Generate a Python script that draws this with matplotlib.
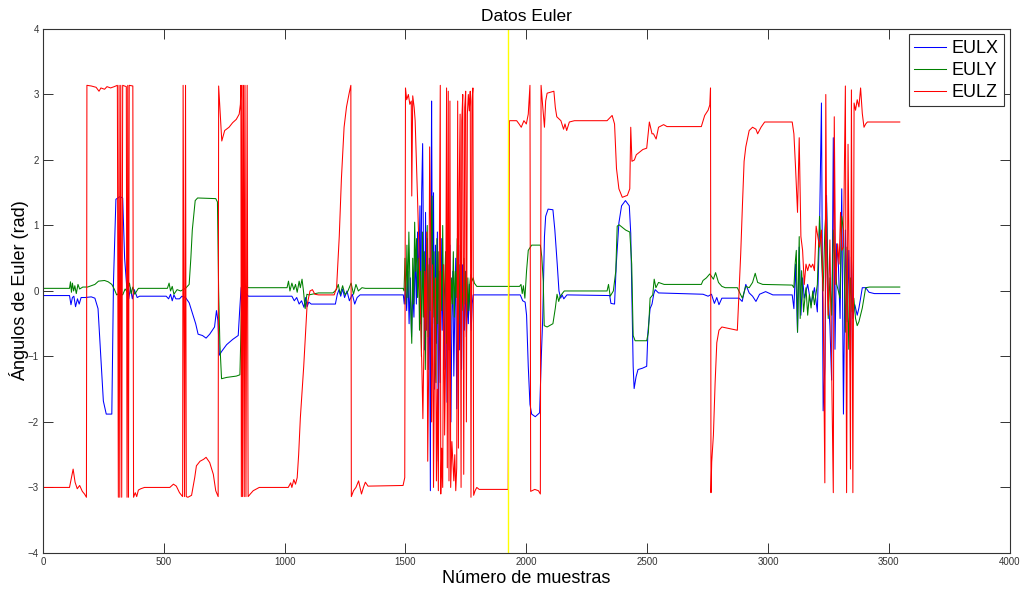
import matplotlib.pyplot as plt

# Euler angles (rad), as (sample, value) vertices
EULX = [(0, -0.07), (110, -0.07), (116, -0.21), (122, -0.1), (128, -0.08), (135, -0.24), (143, -0.12),
        (150, -0.2), (158, -0.1), (175, -0.1), (200, -0.09), (215, -0.11), (228, -0.27), (238, -0.9),
        (250, -1.68), (262, -1.88), (285, -1.88), (292, 0.15), (302, 1.4), (318, 1.44), (330, 1.42),
        (338, 0.5), (348, 0.0), (355, -0.12), (362, 0.05), (370, -0.12), (378, 0.02), (390, -0.1),
        (400, -0.08), (510, -0.08), (520, -0.12), (528, -0.05), (535, -0.15), (542, -0.06), (550, -0.12),
        (565, -0.12), (575, -0.08), (590, -0.1), (605, -0.18), (622, -0.38), (632, -0.5), (642, -0.66),
        (660, -0.68), (675, -0.72), (690, -0.66), (710, -0.55), (718, -0.3), (724, -0.45), (730, -0.98),
        (740, -0.92), (760, -0.82), (785, -0.74), (808, -0.68), (814, -0.3), (820, 0.05), (826, 0.1),
        (835, -0.02), (850, -0.08), (1030, -0.08), (1040, -0.15), (1050, -0.1), (1060, -0.2), (1070, -0.15),
        (1080, -0.25), (1087, -0.1), (1093, -0.24), (1100, -0.17), (1110, -0.2), (1210, -0.2), (1218, -0.05),
        (1225, 0.02), (1232, -0.08), (1240, 0.03), (1248, -0.1), (1258, 0.0), (1268, -0.15), (1280, -0.05),
        (1290, -0.2), (1300, -0.1), (1312, -0.06), (1491, -0.06),
        (1495, -0.2), (1500, 0.1), (1505, -0.3), (1510, 0.3), (1515, -0.5), (1520, 0.2), (1525, -0.7),
        (1530, 0.0), (1535, -0.4), (1540, 0.6), (1545, -0.2), (1550, 0.9), (1555, 0.1), (1560, 1.3),
        (1563, -0.5), (1567, 1.5), (1571, 2.25), (1575, 0.3), (1579, -0.9), (1583, 1.2), (1587, -0.6),
        (1591, 0.8), (1595, -1.2), (1599, 0.5), (1603, -3.05), (1606, 1.0), (1608, 2.9), (1612, -0.5),
        (1616, 1.5), (1620, -1.5), (1624, 0.7), (1628, -0.8), (1632, 0.9), (1636, -2.6), (1640, 0.3),
        (1644, -1.4), (1648, 0.8), (1652, -0.6), (1656, 0.4), (1660, -1.2), (1664, -0.2), (1668, 0.6),
        (1672, -1.7), (1676, 0.2), (1680, -0.9), (1684, 0.7), (1688, -2.0), (1692, -0.4), (1696, 0.3),
        (1700, -1.3), (1704, -0.3), (1708, 0.5), (1712, -1.8), (1716, -0.5), (1720, 0.7), (1724, -0.9),
        (1728, 0.1), (1732, -1.2), (1736, 0.4), (1740, -0.2), (1744, -0.6), (1748, 0.3), (1752, -0.7),
        (1756, -0.1), (1760, -0.5), (1764, 0.1), (1768, -0.3), (1772, -0.6), (1776, -0.2), (1780, -0.06),
        (1975, -0.06), (1985, -0.15), (1995, -0.17), (2001, -0.37), (2008, -1.15), (2015, -1.73),
        (2022, -1.88), (2037, -1.92), (2055, -1.86), (2062, -1.0), (2068, -0.4), (2075, 0.83), (2080, 1.14),
        (2090, 1.25), (2110, 1.24), (2118, 0.93), (2128, 0.4), (2135, 0.0), (2142, -0.11), (2148, -0.06),
        (2155, -0.12), (2168, -0.06), (2345, -0.07), (2350, -0.19), (2365, -0.2), (2372, 0.4), (2383, 1.04),
        (2394, 1.3), (2410, 1.38), (2426, 1.3), (2432, 0.88), (2437, -0.1), (2442, -1.15), (2446, -1.49),
        (2454, -1.31), (2462, -1.2), (2480, -1.18), (2498, -1.15), (2503, -0.63), (2512, -0.27),
        (2520, -0.2), (2527, -0.05), (2533, 0.02), (2547, -0.03), (2731, -0.05), (2752, -0.08),
        (2766, -0.05), (2778, -0.19), (2788, -0.1), (2797, -0.21), (2809, -0.11), (2880, -0.11),
        (2893, -0.16), (2908, 0.1), (2922, -0.03), (2936, -0.08), (2950, -0.16), (2965, -0.05),
        (2990, -0.01), (3020, -0.06), (3100, -0.06), (3107, -0.27),
        (3114, 0.41), (3122, -0.63), (3129, 0.67), (3136, -0.37), (3143, 0.2), (3150, -0.11), (3164, 0.1),
        (3178, -0.21), (3192, 0.05), (3204, -0.32), (3213, 0.93), (3221, 2.87), (3228, -1.83),
        (3235, -1.15), (3242, 1.46), (3249, -0.11), (3256, -0.53), (3263, -1.36), (3270, 2.34),
        (3277, -0.89), (3284, 0.72), (3291, 0.41), (3298, -0.42), (3305, 1.56), (3312, -1.88), (3320, 0.93),
        (3327, -0.47), (3334, 0.62), (3341, -1.2), (3345, 0.52), (3351, -0.42), (3359, -0.21),
        (3369, -0.37), (3376, -0.26), (3383, -0.11), (3390, 0.05), (3404, 0.05), (3418, -0.02),
        (3440, -0.04), (3545, -0.04)]

EULY = [(0, 0.04), (110, 0.04), (114, 0.14), (118, -0.02), (122, 0.12), (127, 0.0), (132, 0.08),
        (138, -0.04), (145, 0.1), (152, 0.03), (165, 0.06), (185, 0.06), (200, 0.08), (215, 0.1),
        (230, 0.15), (255, 0.16), (270, 0.14), (285, 0.1), (295, 0.03), (305, -0.06), (318, -0.03),
        (330, -0.06), (340, 0.03), (350, -0.02), (358, 0.12), (365, -0.04), (372, 0.06), (380, -0.05),
        (395, 0.04), (515, 0.04), (522, 0.12), (528, 0.0), (535, 0.07), (542, -0.05), (555, 0.02),
        (570, 0.0), (590, 0.04), (605, 0.1), (612, 0.5), (618, 0.93), (630, 1.38), (640, 1.42), (715, 1.41),
        (722, 1.36), (724, 0.78), (727, 0.0), (732, -0.8), (739, -1.34), (760, -1.32), (800, -1.3),
        (815, -1.28), (820, -0.5), (823, 0.1), (830, 0.15), (840, 0.06), (852, 0.05), (1010, 0.05),
        (1016, 0.15), (1022, 0.0), (1030, 0.12), (1038, 0.02), (1045, 0.1), (1052, -0.02), (1060, 0.15),
        (1065, 0.05), (1072, 0.18), (1078, 0.0), (1085, -0.27), (1092, -0.05), (1100, -0.06),
        (1140, -0.03), (1200, -0.03), (1214, 0.02), (1222, 0.1), (1230, -0.05), (1240, 0.08),
        (1250, -0.06), (1262, 0.0), (1275, 0.12), (1285, -0.05), (1295, 0.1), (1305, 0.0), (1320, 0.05),
        (1334, 0.04), (1490, 0.04),
        (1494, 0.0), (1498, 0.5), (1502, -0.2), (1506, 0.7), (1510, -0.1), (1514, 0.9), (1518, 0.2),
        (1522, -0.3), (1526, -0.8), (1530, 0.5), (1534, -0.2), (1538, 1.05), (1542, 0.3), (1546, 0.8),
        (1550, -0.1), (1554, 0.5), (1558, -0.6), (1562, 0.3), (1566, -1.0), (1570, 0.9), (1574, -0.4),
        (1578, 0.6), (1582, -1.2), (1586, 0.3), (1590, 1.0), (1594, -0.7), (1598, 0.4), (1602, -0.3),
        (1606, 0.8), (1610, 1.45), (1614, -0.4), (1618, 0.6), (1622, -1.1), (1626, -1.4), (1630, 0.8),
        (1634, -0.5), (1638, 0.6), (1642, -0.9), (1646, 0.3), (1650, -0.3), (1654, 1.0), (1658, -0.6),
        (1662, 0.1), (1666, 0.6), (1670, -0.8), (1674, 0.3), (1678, -0.4), (1682, 0.5), (1686, -0.6),
        (1690, 0.2), (1694, -0.2), (1698, 0.6), (1702, -0.4), (1706, 0.3), (1710, -0.1), (1714, 0.8),
        (1718, -0.3), (1722, 0.4), (1726, -0.5), (1730, 0.6), (1734, 0.0), (1738, -0.3), (1742, 0.5),
        (1746, -0.2), (1750, 0.3), (1754, -0.4), (1758, 0.2), (1762, -0.3), (1766, 0.1), (1770, 0.25),
        (1775, 0.15), (1780, 0.2), (1785, 0.12), (1795, 0.07), (1972, 0.07), (1978, 0.1), (1983, -0.04),
        (1988, 0.08), (1994, -0.11), (2001, 0.31), (2008, 0.62), (2022, 0.7), (2058, 0.7), (2064, 0.52),
        (2070, 0.15), (2074, -0.53), (2086, -0.55), (2110, -0.5), (2120, -0.26), (2127, -0.05),
        (2134, -0.16), (2140, -0.08), (2157, 0.0), (2334, 0.0), (2340, 0.1), (2347, -0.08), (2360, 0.0),
        (2370, 0.3), (2376, 0.99), (2384, 1.01), (2411, 0.93), (2428, 0.9), (2436, 0.41), (2442, -0.68),
        (2450, -0.76), (2498, -0.76), (2505, -0.63), (2512, -0.11), (2523, -0.06), (2529, 0.18),
        (2536, 0.05), (2547, 0.13), (2570, 0.1), (2724, 0.1), (2731, 0.16), (2745, 0.2), (2759, 0.26),
        (2774, 0.18), (2783, 0.28), (2795, 0.13), (2809, 0.07), (2823, 0.05), (2873, 0.05), (2887, -0.06),
        (2894, -0.11), (2908, 0.07), (2922, 0.05), (2936, 0.13), (2947, 0.27), (2957, 0.13), (2978, 0.1),
        (3100, 0.09),
        (3107, 0.05), (3112, 0.41), (3117, 0.62), (3122, -0.63), (3129, 0.83), (3133, -0.42), (3139, 0.31),
        (3147, -0.32), (3157, 0.05), (3164, -0.37), (3171, -0.06), (3178, -0.26), (3185, 0.0),
        (3192, -0.21), (3204, 0.1), (3213, 1.14), (3221, 0.52), (3228, 0.0), (3235, 0.93), (3242, 1.35),
        (3249, -0.42), (3256, 0.2), (3263, -0.37), (3270, 0.93), (3277, 0.41), (3284, 0.1), (3291, 0.0),
        (3298, -0.11), (3305, 1.14), (3312, 0.93), (3320, -0.63), (3327, 0.67), (3334, -0.89), (3341, 0.2),
        (3348, -0.32), (3355, -0.11), (3362, -0.42), (3369, -0.53), (3376, -0.47), (3390, -0.26),
        (3404, 0.05), (3420, 0.06), (3545, 0.06)]

EULZ = [(0, -3.0), (110, -3.0), (118, -2.85), (125, -2.72), (133, -2.92), (142, -3.02), (152, -2.97),
        (163, -3.06), (172, -3.1), (180, -3.15), (182, 3.14), (200, 3.13), (220, 3.11), (232, 3.05),
        (240, 3.1), (255, 3.08), (265, 3.12), (280, 3.1), (295, 3.12), (308, 3.14), (312, -3.15),
        (315, 3.14), (318, -3.15), (322, 3.14), (326, -3.15), (330, 3.14), (345, 3.12), (348, -3.15),
        (351, 3.14), (354, -3.15), (357, 3.14), (372, 3.13), (375, -3.15), (382, -3.08), (388, -3.14),
        (395, -3.04), (405, -3.02), (420, -3.0), (525, -3.0), (540, -2.95), (552, -2.98), (565, -3.08),
        (578, -3.14), (580, 3.14), (586, -3.14), (590, 3.14), (593, -3.14), (600, -3.15), (615, -3.12),
        (628, -2.85), (635, -2.67), (650, -2.6), (665, -2.57), (675, -2.54), (690, -2.62), (705, -2.8),
        (715, -3.05), (725, -3.14), (727, 3.13), (735, 2.6), (740, 2.29), (752, 2.45), (770, 2.5),
        (785, 2.57), (800, 2.62), (812, 2.7), (817, 2.85), (819, 3.14), (821, -3.14), (824, 3.14),
        (826, -3.14), (830, 3.14), (833, -3.14), (836, 3.14), (840, -3.14), (845, 3.14), (849, -3.14),
        (858, -3.1), (870, -3.05), (895, -3.0), (1015, -3.0), (1025, -2.93), (1030, -3.0), (1038, -2.88),
        (1045, -2.95), (1052, -2.85), (1058, -2.5), (1065, -1.94), (1079, -1.15), (1093, -0.21),
        (1105, 0.0), (1115, 0.02), (1125, -0.05), (1140, -0.06), (1205, -0.06), (1215, 0.05), (1220, 0.4),
        (1226, 0.83), (1235, 1.72), (1246, 2.5), (1256, 2.81), (1267, 3.02), (1274, 3.14), (1276, -3.14),
        (1285, -3.05), (1295, -3.0), (1306, -2.9), (1318, -3.1), (1326, -3.0), (1334, -2.92),
        (1345, -2.98), (1490, -2.97), (1497, -2.85),
        (1500, 3.1), (1505, 2.92), (1512, 3.0), (1518, 2.85), (1524, 2.9), (1526, 1.45), (1530, 2.98),
        (1536, 2.8), (1540, 2.6), (1545, 2.0), (1550, 1.4), (1556, 0.6), (1562, -0.3), (1568, -1.2),
        (1572, -1.95), (1576, -0.9), (1580, 0.3), (1584, -0.6), (1588, 0.9), (1592, -2.6), (1596, -1.2),
        (1600, 2.2), (1604, 0.9), (1608, -2.0), (1612, 0.4), (1616, -3.0), (1620, -1.0), (1624, 0.2),
        (1628, -2.9), (1632, -1.5), (1636, -3.05), (1640, 0.6), (1644, 3.14), (1646, -3.1), (1650, -2.4),
        (1654, -3.0), (1658, 0.4), (1662, -2.2), (1666, -1.0), (1670, 3.1), (1673, -2.7), (1677, 3.05),
        (1680, -2.9), (1684, 2.9), (1687, -3.0), (1692, -2.3), (1696, -2.6), (1700, -2.9), (1704, -2.5),
        (1708, -3.05), (1712, -2.7), (1716, 2.9), (1719, -2.4), (1722, 1.5), (1726, 2.7), (1730, -3.0),
        (1733, 2.6), (1737, 3.0), (1741, -2.8), (1745, 2.8), (1749, 3.05), (1752, -2.0), (1756, 2.7),
        (1760, 3.0), (1764, 2.75), (1768, 3.05), (1771, -3.15), (1775, 2.9), (1779, 3.1), (1782, -3.12),
        (1788, -3.05), (1795, -3.0), (1805, -3.03), (1925, -3.03),
        (1930, 2.6), (1960, 2.6), (1970, 2.55), (1979, 2.5), (1990, 2.6), (2000, 2.55), (2008, 2.7),
        (2015, 3.14), (2018, -3.06), (2035, -3.03), (2050, -3.05), (2058, -3.1), (2061, 3.14), (2066, 2.9),
        (2075, 2.5), (2080, 2.9), (2086, 3.02), (2114, 3.05), (2120, 2.8), (2126, 2.66), (2143, 2.6),
        (2154, 2.47), (2160, 2.55), (2167, 2.45), (2178, 2.58), (2199, 2.6), (2334, 2.6), (2355, 2.68),
        (2365, 2.55), (2373, 1.87), (2383, 1.56), (2397, 1.43), (2418, 1.46), (2428, 1.56), (2432, 2.5),
        (2437, 1.98), (2447, 2.0), (2455, 2.08), (2482, 2.16), (2498, 2.18), (2509, 2.58), (2520, 2.4),
        (2526, 2.4), (2537, 2.32), (2547, 2.5), (2568, 2.54), (2582, 2.51), (2724, 2.51), (2738, 2.68),
        (2752, 2.76), (2759, 2.84), (2762, 3.1), (2764, -3.08), (2767, -2.61), (2774, -2.2), (2781, -1.41),
        (2788, -0.79), (2797, -0.6), (2809, -0.55), (2873, -0.6), (2880, 0.0), (2887, 0.57), (2894, 1.3),
        (2901, 1.98), (2908, 2.2), (2922, 2.45), (2936, 2.5), (2950, 2.47), (2957, 2.4), (2971, 2.5),
        (2986, 2.58), (3100, 2.58), (3107, 2.4), (3114, 1.87), (3122, 1.2),
        (3129, 2.34), (3136, 0.83), (3143, 0.62), (3150, 0.1), (3157, 0.41), (3164, 0.31), (3171, 0.41),
        (3178, 0.36), (3185, 0.41), (3192, 0.31), (3199, 0.99), (3213, 0.67), (3221, 0.93), (3228, -0.11),
        (3235, -2.93), (3239, 3.0), (3243, 0.41), (3249, -0.37), (3256, 0.78), (3263, -1.15),
        (3270, -3.08), (3274, 2.66), (3280, 0.1), (3288, 0.72), (3294, 0.41), (3300, 1.2), (3305, 0.62),
        (3312, 0.67), (3320, 3.13), (3325, -3.08), (3331, 2.24), (3337, -0.11), (3341, -2.72),
        (3345, 3.07), (3351, -3.08), (3356, 2.87), (3362, 2.76), (3369, 2.92), (3376, 2.81), (3383, 3.1),
        (3390, 2.71), (3397, 2.5), (3404, 2.55), (3411, 2.58), (3545, 2.58)]

MARK_SAMPLE = 1925  # yellow vertical marker

x_n, x_v = zip(*EULX)
y_n, y_v = zip(*EULY)
z_n, z_v = zip(*EULZ)

plt.rcParams['font.family'] = ['Liberation Sans', 'DejaVu Sans']

fig = plt.figure(figsize=(10.22, 5.92), dpi=100)
ax = fig.add_axes([0.042, 0.066, 0.946, 0.885])

ax.plot(x_n, x_v, color='#0000ff', lw=0.75, label='EULX')
ax.plot(y_n, y_v, color='#008000', lw=0.75, label='EULY')
ax.plot(z_n, z_v, color='#ff0000', lw=0.75, label='EULZ')
ax.axvline(MARK_SAMPLE, color='#ffff00', lw=1.0)

ax.set_xlim(0, 4000)
ax.set_ylim(-4, 4)
ax.set_xticks(range(0, 4001, 500))
ax.set_yticks(range(-4, 5))
ax.tick_params(direction='in', length=7, width=0.7, top=True, right=True,
               labelsize=7, labelcolor='#333333', color='#333333', pad=3)
for s in ax.spines.values():
    s.set_color('#333333')
    s.set_linewidth(0.8)

ax.set_title('Datos Euler', fontsize=12.5, pad=6)
ax.set_xlabel('Número de muestras', fontsize=13, labelpad=2)
ax.set_ylabel('Ángulos de Euler (rad)', fontsize=13, labelpad=-1)

leg = ax.legend(loc='upper right', fontsize=13, fancybox=False, framealpha=1,
                edgecolor='#333333', borderaxespad=0.3, handlelength=1.8,
                handletextpad=0.3, labelspacing=0.28, borderpad=0.3)
leg.get_frame().set_linewidth(0.8)

plt.savefig('out.png', dpi=100)
